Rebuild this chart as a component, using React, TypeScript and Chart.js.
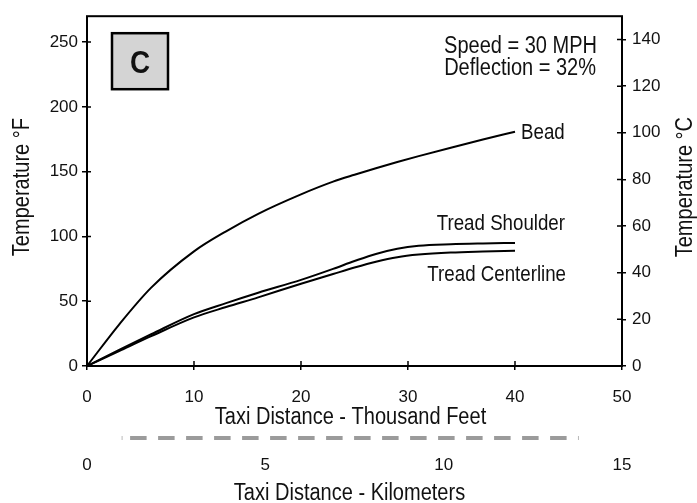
import { useEffect, useRef } from "react";
import { Chart, registerables } from "chart.js";

Chart.register(...registerables);

// ---- data ----
const distanceKft = [0, 3, 6, 10, 13, 16, 20, 23, 25, 27, 29, 31, 34, 37, 40];
const beadF = [0, 32, 60.5, 88.5, 104, 117.5, 132.5, 142.3, 147.6, 152.6, 157.4, 162, 168.5, 174.8, 180.8];
const treadShoulderF = [0, 12.5, 24.5, 40, 48.5, 56.5, 66.5, 75, 81, 86.5, 90.5, 92.8, 94, 94.6, 95];
const treadCenterlineF = [0, 11.5, 23, 37.5, 45.5, 53, 63.5, 71, 76, 80.5, 84, 86, 87.6, 88.4, 89];
const seriesNames = ["Bead", "Tread Shoulder", "Tread Centerline"];

const feetTicks = [0, 10, 20, 30, 40, 50];
const kmTicks = [0, 5, 10, 15];
const fahrenheitTicks = [0, 50, 100, 150, 200, 250];
const celsiusTicks = [0, 20, 40, 60, 80, 100, 120, 140];
const feetRange = [0, 50];
const kmRange = [0, 15];
const fahrenheitRange = [0, 270];
const celsiusRange = [0, 150];
const kmBarRange = [1, 14]; // dashed conversion bar, km
const kftPerKm = 3.2808;

const panelLetter = "C";
const conditions = ["Speed = 30 MPH", "Deflection = 32%"];
const xTitleFeet = "Taxi Distance - Thousand Feet";
const xTitleKm = "Taxi Distance - Kilometers";
const yTitleF = "Temperature °F";
const yTitleC = "Temperature °C";

const REG = "'Liberation Sans', Arial, Helvetica, sans-serif";
const SQUEEZE = 0.87;

const toPoints = (ys: number[]) => distanceKft.map((x, i) => ({ x, y: ys[i] }));

function narrowText(
  ctx: CanvasRenderingContext2D,
  text: string,
  x: number,
  y: number,
  size: number,
  align: CanvasTextAlign,
  opts: { bold?: boolean; rotate?: number; baseline?: CanvasTextBaseline } = {}
) {
  ctx.save();
  ctx.translate(x, y);
  if (opts.rotate) ctx.rotate(opts.rotate);
  ctx.scale(SQUEEZE, 1);
  ctx.font = `${opts.bold ? "bold " : ""}${size}px ${REG}`;
  ctx.textAlign = align;
  ctx.textBaseline = opts.baseline || "alphabetic";
  ctx.fillStyle = "#111";
  ctx.fillText(text, 0, 0);
  ctx.restore();
}

const decorPlugin = {
  id: "decor",
  afterDraw(chart: any) {
    const { ctx, chartArea: ca, scales } = chart;
    const sx = scales.x;
    const sy = scales.y;
    const sc = scales.yC;
    const skm = scales.km;
    ctx.save();
    // frame
    ctx.strokeStyle = "#000";
    ctx.lineWidth = 2;
    ctx.strokeRect(ca.left, ca.top, ca.right - ca.left, ca.bottom - ca.top);
    // inner tick parts
    ctx.lineWidth = 1.5;
    ctx.beginPath();
    sx.ticks.forEach((t: any) => {
      const p = sx.getPixelForValue(t.value);
      ctx.moveTo(p, ca.bottom);
      ctx.lineTo(p, ca.bottom - 5);
    });
    sy.ticks.forEach((t: any) => {
      const p = sy.getPixelForValue(t.value);
      ctx.moveTo(ca.left, p);
      ctx.lineTo(ca.left + 4, p);
    });
    sc.ticks.forEach((t: any) => {
      const p = sc.getPixelForValue(t.value);
      ctx.moveTo(ca.right, p);
      ctx.lineTo(ca.right - 5, p);
    });
    ctx.stroke();

    // panel letter box
    const bx = ca.left + 25, by = ca.top + 17, bs = 56;
    ctx.fillStyle = "#d4d4d4";
    ctx.fillRect(bx, by, bs, bs);
    ctx.lineWidth = 2.5;
    ctx.strokeRect(bx, by, bs, bs);
    narrowText(ctx, panelLetter, bx + bs / 2, by + bs / 2 + 11.5, 32, "center", { bold: true });

    // conditions text
    narrowText(ctx, conditions[0], ca.right - 25, ca.top + 37, 23, "right");
    narrowText(ctx, conditions[1], ca.right - 26, ca.top + 59, 23, "right");

    // series labels
    const last = distanceKft.length - 1;
    const xe = sx.getPixelForValue(distanceKft[last]);
    narrowText(ctx, seriesNames[0], xe + 6, sy.getPixelForValue(beadF[last]) + 7.5, 21.5, "left");
    narrowText(ctx, seriesNames[1], xe + 50, sy.getPixelForValue(treadShoulderF[last]) - 12.5, 21.5, "right");
    narrowText(ctx, seriesNames[2], xe + 51, sy.getPixelForValue(treadCenterlineF[last]) + 30, 21.5, "right");

    // axis titles
    const midX = (ca.left + ca.right) / 2;
    const midY = (ca.top + ca.bottom) / 2;
    narrowText(ctx, xTitleFeet, midX - 4, ca.bottom + 58, 23, "center");
    narrowText(ctx, xTitleKm, midX - 5, ca.bottom + 134, 23, "center");
    narrowText(ctx, yTitleF, 29, midY - 4, 23, "center", { rotate: -Math.PI / 2 });
    narrowText(ctx, yTitleC, 692, midY - 4, 23, "center", { rotate: -Math.PI / 2 });

    // dashed km conversion bar
    const yb = skm.top + 9;
    const x0 = sx.getPixelForValue(kmBarRange[0] * kftPerKm);
    const x1 = sx.getPixelForValue(kmBarRange[1] * kftPerKm);
    ctx.strokeStyle = "#9b9b9b";
    ctx.lineWidth = 4;
    ctx.setLineDash([16.5, 11.5]);
    ctx.lineDashOffset = 20;
    ctx.beginPath();
    ctx.moveTo(x0, yb);
    ctx.lineTo(x1, yb);
    ctx.stroke();
    ctx.setLineDash([]);
    ctx.lineWidth = 1;
    ctx.strokeStyle = "#bbb";
    ctx.beginPath();
    ctx.moveTo(x0, yb - 2);
    ctx.lineTo(x0, yb + 2);
    ctx.moveTo(x1, yb - 2);
    ctx.lineTo(x1, yb + 2);
    ctx.stroke();
    ctx.restore();
  },
};

export default function App() {
  const ref = useRef<HTMLCanvasElement | null>(null);
  useEffect(() => {
    if (!ref.current) return;
    const lineDs = (label: string, ys: number[]) => ({
      label,
      data: toPoints(ys),
      borderColor: "#000",
      borderWidth: 2,
      pointRadius: 0,
      fill: false,
      cubicInterpolationMode: "monotone" as const,
      xAxisID: "x",
      yAxisID: "y",
    });
    const tickFont = { family: REG, size: 17 };
    const chart = new Chart(ref.current, {
      type: "line",
      data: {
        datasets: [
          lineDs(seriesNames[0], beadF),
          lineDs(seriesNames[1], treadShoulderF),
          lineDs(seriesNames[2], treadCenterlineF),
        ],
      },
      options: {
        animation: false,
        responsive: true,
        maintainAspectRatio: false,
        devicePixelRatio: 1,
        layout: { padding: { top: 12, left: 0, right: 0, bottom: 0 } },
        plugins: { legend: { display: false }, tooltip: { enabled: false } },
        scales: {
          x: {
            type: "linear",
            position: "bottom",
            min: feetRange[0],
            max: feetRange[1],
            afterBuildTicks: (s: any) => { s.ticks = feetTicks.map((v) => ({ value: v })); },
            afterFit: (s: any) => { s.height = 63; },
            border: { display: false },
            grid: { drawOnChartArea: false, tickLength: 4, color: "#000", lineWidth: 1.5 },
            ticks: { font: tickFont, color: "#111", padding: 17, maxRotation: 0, autoSkip: false },
            title: { display: false, text: xTitleFeet },
          },
          km: {
            type: "linear",
            position: "bottom",
            min: kmRange[0],
            max: kmRange[1],
            afterBuildTicks: (s: any) => { s.ticks = kmTicks.map((v) => ({ value: v })); },
            afterFit: (s: any) => { s.height = 74; },
            border: { display: false },
            grid: { display: false },
            ticks: { font: tickFont, color: "#111", padding: 18, maxRotation: 0, autoSkip: false },
            title: { display: false, text: xTitleKm },
          },
          y: {
            type: "linear",
            position: "left",
            min: fahrenheitRange[0],
            max: fahrenheitRange[1],
            afterBuildTicks: (s: any) => { s.ticks = fahrenheitTicks.map((v) => ({ value: v })); },
            afterFit: (s: any) => { s.width = 87; },
            border: { display: false },
            grid: { drawOnChartArea: false, tickLength: 5, color: "#000", lineWidth: 1.5 },
            ticks: { font: tickFont, color: "#111", padding: 4 },
            title: { display: false, text: yTitleF },
          },
          yC: {
            type: "linear",
            position: "right",
            min: celsiusRange[0],
            max: celsiusRange[1],
            afterBuildTicks: (s: any) => { s.ticks = celsiusTicks.map((v) => ({ value: v })); },
            afterFit: (s: any) => { s.width = 75; },
            border: { display: false },
            grid: { drawOnChartArea: false, tickLength: 4, color: "#000", lineWidth: 1.5 },
            ticks: { font: tickFont, color: "#111", padding: 6 },
          },
        },
      },
      plugins: [decorPlugin],
    });
    return () => chart.destroy();
  }, []);
  return (
    <div style={{ position: "absolute", left: 0, top: 0, width: 697, height: 503, background: "#fff" }}>
      <canvas ref={ref} />
    </div>
  );
}
